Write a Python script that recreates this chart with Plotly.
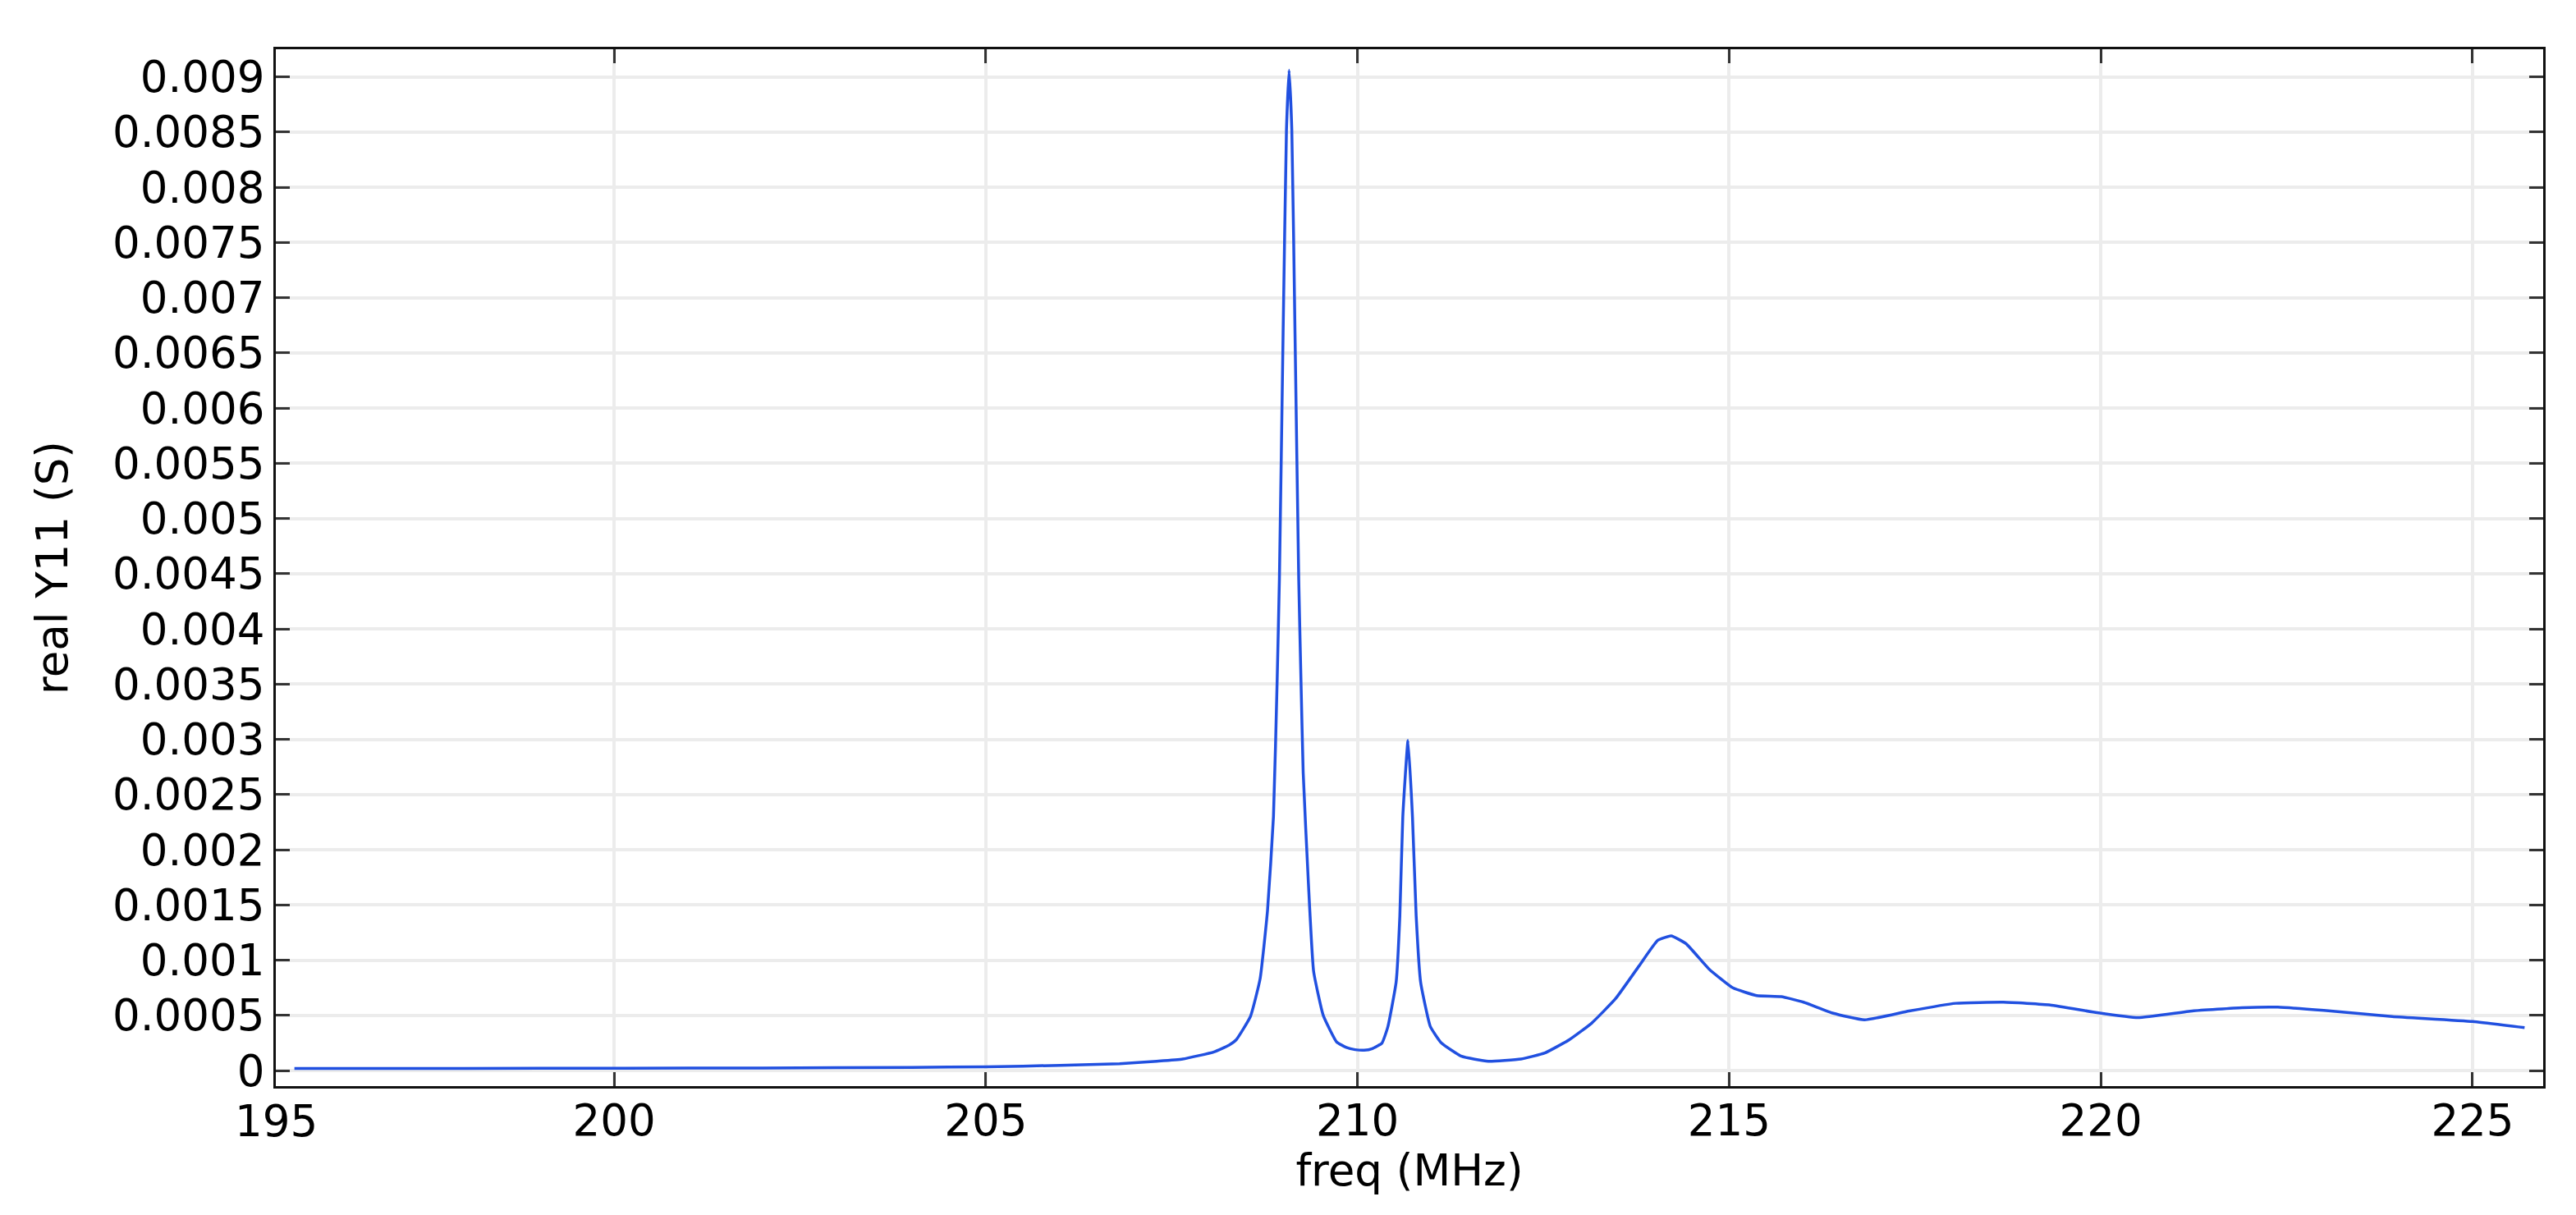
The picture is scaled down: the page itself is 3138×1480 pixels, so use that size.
#!/usr/bin/env python3

import plotly.graph_objs as go

# Frequency sweep (MHz) and real part of Y11 (S)
freq_mhz = [
    195.7, 198.0, 200.0, 202.0, 204.0, 205.0, 206.0, 206.8, 207.3, 207.65,
    208.07, 208.27, 208.37, 208.56, 208.69, 208.79, 208.87, 208.92, 208.95, 209.0,
    209.045, 209.08, 209.117, 209.16, 209.21, 209.24, 209.27, 209.34, 209.41, 209.54,
    209.72, 209.85, 209.97, 210.09, 210.2, 210.33, 210.41, 210.52, 210.57, 210.61,
    210.68, 210.74, 210.79, 210.85, 210.98, 211.13, 211.4, 211.76, 212.2, 212.52,
    212.85, 213.15, 213.47, 213.79, 214.04, 214.22, 214.42, 214.73, 215.05, 215.37,
    215.7, 216.0, 216.4, 216.82, 217.42, 218.05, 218.69, 219.32, 219.95, 220.5,
    221.23, 221.9, 222.38, 223.0, 223.92, 225.0, 225.7,
]
real_y11 = [
    0.00002, 0.00002, 0.000022, 0.000024, 0.00003, 0.000035, 0.000048, 0.000063, 0.000085, 0.000105,
    0.00017, 0.00023, 0.00028, 0.00049, 0.00083, 0.00145, 0.0023, 0.00354, 0.00445, 0.00668,
    0.00852, 0.00906, 0.00852, 0.00668, 0.00445, 0.00354, 0.0027, 0.0017, 0.0009, 0.0005,
    0.00026, 0.00021, 0.00019, 0.000185, 0.0002, 0.00025, 0.0004, 0.0008, 0.0014, 0.0023,
    0.00299, 0.0023, 0.0014, 0.0008, 0.0004, 0.00025, 0.00013, 0.000085, 0.000106, 0.00016,
    0.00028, 0.00043, 0.00065, 0.00095, 0.00118, 0.00122, 0.00115, 0.00092, 0.00075, 0.00068,
    0.00067, 0.00062, 0.00052, 0.00046, 0.00054, 0.00061, 0.00062, 0.000595, 0.000525, 0.00048,
    0.00054, 0.00057, 0.000575, 0.000545, 0.00049, 0.000445, 0.00039,
]

# Axis ticks
x_ticks = [200, 205, 210, 215, 220, 225]
y_ticks = [i * 0.0005 for i in range(19)]
y_tick_text = [
    "0", "0.0005", "0.001", "0.0015", "0.002", "0.0025", "0.003", "0.0035", "0.004",
    "0.0045", "0.005", "0.0055", "0.006", "0.0065", "0.007", "0.0075", "0.008",
    "0.0085", "0.009",
]

FONT = "DejaVu Sans"

fig = go.Figure()

fig.add_trace(
    go.Scatter(
        x=freq_mhz,
        y=real_y11,
        mode="lines",
        line=dict(color="#2150e0", width=3.5, shape="spline", smoothing=0.4),
        showlegend=False,
    )
)

axis_common = dict(
    showline=True,
    linecolor="#111111",
    linewidth=3,
    mirror="ticks",
    ticks="inside",
    ticklen=17,
    tickwidth=3,
    tickcolor="#333333",
    showgrid=True,
    gridcolor="#ececec",
    gridwidth=4,
    zeroline=False,
    tickfont=dict(family=FONT, size=53, color="black"),
)

fig.update_layout(
    width=3138,
    height=1480,
    margin=dict(l=328, r=48, t=52, b=165),
    paper_bgcolor="white",
    plot_bgcolor="white",
    font=dict(family=FONT, size=53, color="black"),
    xaxis=dict(
        range=[195.45, 225.95],
        tickvals=x_ticks,
        ticklabelstandoff=-7,
        title=dict(text="freq (MHz)", font=dict(family=FONT, size=53), standoff=0),
        **axis_common,
    ),
    yaxis=dict(
        range=[-0.00014, 0.00925],
        tickvals=y_ticks,
        ticktext=y_tick_text,
        ticklabelstandoff=0,
        title=dict(text="real Y11 (S)", font=dict(family=FONT, size=53), standoff=38),
        **axis_common,
    ),
    # the first x label sits on the left frame edge, outside the data range
    annotations=[
        dict(
            text="195",
            xref="paper",
            yref="paper",
            x=0,
            y=0,
            xanchor="center",
            yanchor="top",
            yshift=-10,
            showarrow=False,
            font=dict(family=FONT, size=53, color="black"),
        )
    ],
)

fig.write_html("out.html")
